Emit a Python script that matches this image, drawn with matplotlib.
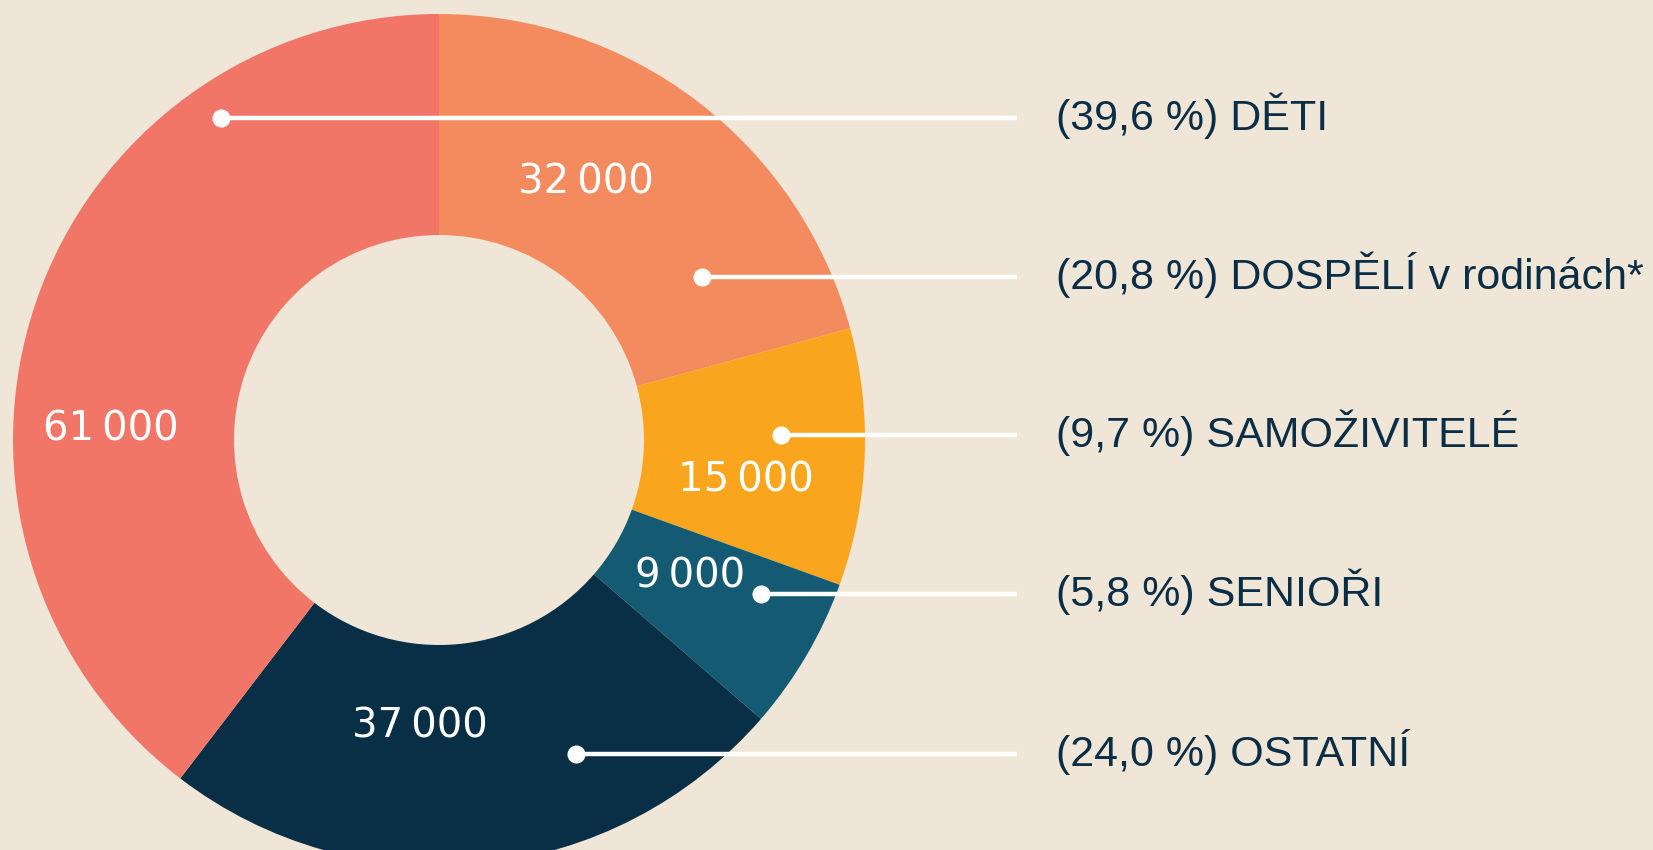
import matplotlib
matplotlib.use("Agg")
import matplotlib.pyplot as plt
from matplotlib import font_manager

# data (order clockwise from the top)
categories = ["DOSPĚLÍ v rodinách*", "SAMOŽIVITELÉ", "SENIOŘI", "OSTATNÍ", "DĚTI"]
values = [32000, 15000, 9000, 37000, 61000]
colors = ["#F48B5E", "#F9A51D", "#145A72", "#082F45", "#F27667"]

# layout in pixels (y measured from the top of the image)
W, H = 1653, 850
CENTER = (439, 440)
R_OUT = 426
R_IN = 205
value_pos = [(586, 182), (746, 480), (690, 576), (420, 727), (111, 429)]
dot_pos = [(702, 277), (781, 435), (761, 594), (576, 754), (221, 118)]
line_end_x = 1017
label_x = 1056

BG = "#F0E6D8"
TXT = "#0B2E47"

names = {f.name for f in font_manager.fontManager.ttflist}
if "Liberation Sans Narrow" in names:
    LABEL_FONT = ["Liberation Sans Narrow", "DejaVu Sans"]
    label_size = 37
else:
    LABEL_FONT = ["Liberation Sans", "DejaVu Sans"]
    label_size = 31
VALUE_FONT = ["DejaVu Sans"]

fig = plt.figure(figsize=(W / 100, H / 100), dpi=100, facecolor=BG)
ax = fig.add_axes([0, 0, 1, 1])
ax.set_facecolor(BG)

ax.pie(values, colors=colors, startangle=90, counterclock=False,
       center=(CENTER[0], H - CENTER[1]), radius=R_OUT,
       wedgeprops=dict(width=R_OUT - R_IN, linewidth=0), frame=True)
ax.set_xlim(0, W)
ax.set_ylim(0, H)
ax.set_aspect("equal")
ax.axis("off")

total = sum(values)
for cat, v, (vx, vy), (dx, dy) in zip(categories, values, value_pos, dot_pos):
    txt = f"{v:,}".replace(",", "\u2009")
    ax.text(vx, H - vy, txt, color="white", fontsize=29, ha="center", va="center",
            family=VALUE_FONT)
    ax.plot([dx, line_end_x], [H - dy, H - dy], color="white", lw=3.2,
            solid_capstyle="butt")
    ax.plot(dx, H - dy, "o", color="white", markersize=12)
    pct = f"({v / total * 100:.1f} %)".replace(".", ",")
    ax.text(label_x, H - dy - 12, f"{pct} {cat}", color=TXT, fontsize=label_size,
            ha="left", va="baseline", family=LABEL_FONT)

fig.savefig("out.png", dpi=100, facecolor=BG)
